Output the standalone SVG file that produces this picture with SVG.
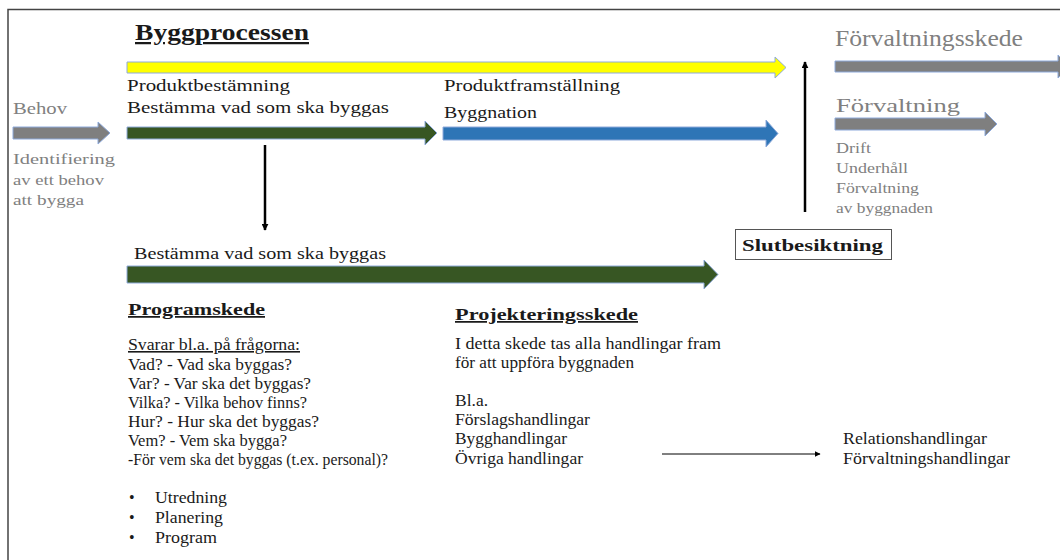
<svg xmlns="http://www.w3.org/2000/svg" width="1060" height="560" viewBox="0 0 1060 560">
<defs>
<style>
text{font-family:"Liberation Serif","Times New Roman",serif;font-size:17.5px;fill:#1a1a1a}
.g{fill:#808080}
.b{font-weight:bold}
.u{text-decoration:underline}
.s{font-size:16px}
.p{font-size:17px}
.ar{stroke:#8eaadb;stroke-width:1}
</style>
<marker id="ah" viewBox="0 0 10 10" refX="9" refY="5" markerWidth="6" markerHeight="6" orient="auto" markerUnits="userSpaceOnUse">
<path d="M0,0 L10,5 L0,10 z" fill="#000"/>
</marker>
<marker id="ah2" viewBox="0 0 10 10" refX="9" refY="5" markerWidth="7" markerHeight="7" orient="auto" markerUnits="userSpaceOnUse">
<path d="M0,0 L10,5 L0,10 z" fill="#000"/>
</marker>
</defs>
<rect width="1060" height="560" fill="#fff"/>
<g id="frame" fill="none" stroke="#444" stroke-width="1.5">
<path d="M8,560 V9.5 H1060"/>
</g>
<g id="title"><text x="135" y="40" class="b u" style="font-size:22.5px" textLength="174" lengthAdjust="spacingAndGlyphs">Byggprocessen</text></g>
<g id="behov">
<text x="13" y="114" class="g" textLength="54" lengthAdjust="spacingAndGlyphs">Behov</text>
<path class="ar" d="M13,127 H98 V122 L110,133 L98,144 V139 H13 Z" fill="#7f7f7f"/>
<text x="13" y="164" class="g" style="font-size:15.5px" textLength="102" lengthAdjust="spacingAndGlyphs">Identifiering</text>
<text x="13" y="185" class="g" style="font-size:15.5px" textLength="91" lengthAdjust="spacingAndGlyphs">av ett behov</text>
<text x="13" y="205" class="g" style="font-size:15.5px" textLength="71" lengthAdjust="spacingAndGlyphs">att bygga</text>
</g>
<g id="byggprocess-arrow">
<path class="ar" d="M127,62 H775 V57 L786,67.5 L775,78 V73 H127 Z" fill="#ffff00"/>
</g>
<g id="produktbestamning">
<text x="127" y="91" textLength="163" lengthAdjust="spacingAndGlyphs">Produktbestämning</text>
<text x="127" y="113" textLength="262" lengthAdjust="spacingAndGlyphs">Bestämma vad som ska byggas</text>
<path class="ar" d="M127,127 H425 V121 L437,133 L425,145 V139 H127 Z" fill="#375623"/>
</g>
<g id="produktframstallning">
<text x="444" y="91" textLength="176" lengthAdjust="spacingAndGlyphs">Produktframställning</text>
<text x="444" y="118" textLength="93" lengthAdjust="spacingAndGlyphs">Byggnation</text>
<path class="ar" d="M443,127 H766 V120 L778,133.5 L766,147 V140 H443 Z" fill="#2e75b6"/>
</g>
<g id="forvaltningsskede">
<text x="835" y="46" class="g" style="font-size:22.5px" textLength="188" lengthAdjust="spacingAndGlyphs">Förvaltningsskede</text>
<path class="ar" d="M835,61 H1058 V55 L1070,66.5 L1058,78 V72 H835 Z" fill="#7f7f7f"/>
<text x="836" y="112" class="g" style="font-size:18px" textLength="124" lengthAdjust="spacingAndGlyphs">Förvaltning</text>
<path class="ar" d="M835,118 H985 V112 L997,124 L985,136 V130 H835 Z" fill="#7f7f7f"/>
<text x="836" y="153" class="g" style="font-size:15.5px" textLength="35" lengthAdjust="spacingAndGlyphs">Drift</text>
<text x="836" y="173" class="g" style="font-size:15.5px" textLength="72" lengthAdjust="spacingAndGlyphs">Underhåll</text>
<text x="836" y="193" class="g" style="font-size:15.5px" textLength="83" lengthAdjust="spacingAndGlyphs">Förvaltning</text>
<text x="836" y="213" class="g" style="font-size:15.5px" textLength="97" lengthAdjust="spacingAndGlyphs">av byggnaden</text>
</g>
<g id="slutbesiktning">
<rect x="735.5" y="229.5" width="156" height="30" fill="#fff" stroke="#555" stroke-width="1"/>
<text x="742" y="250.5" class="b" style="font-size:17.5px" textLength="141" lengthAdjust="spacingAndGlyphs">Slutbesiktning</text>
</g>
<g id="bestamma">
<text x="134" y="259" textLength="252" lengthAdjust="spacingAndGlyphs">Bestämma vad som ska byggas</text>
<path class="ar" d="M127,266 H704 V260 L718,274.5 L704,289 V283 H127 Z" fill="#375623"/>
</g>
<g id="programskede">
<text x="128" y="315" class="b u" textLength="137" lengthAdjust="spacingAndGlyphs">Programskede</text>
<text x="128" y="350" class="u s" textLength="172" lengthAdjust="spacingAndGlyphs">Svarar bl.a. på frågorna:</text>
<text x="128" y="369.5" class="s" textLength="164" lengthAdjust="spacingAndGlyphs">Vad? - Vad ska byggas?</text>
<text x="128" y="388.5" class="s" textLength="183" lengthAdjust="spacingAndGlyphs">Var? - Var ska det byggas?</text>
<text x="128" y="407.5" class="s" textLength="179" lengthAdjust="spacingAndGlyphs">Vilka? - Vilka behov finns?</text>
<text x="128" y="426.5" class="s" textLength="191" lengthAdjust="spacingAndGlyphs">Hur? - Hur ska det byggas?</text>
<text x="128" y="446" class="s" textLength="159" lengthAdjust="spacingAndGlyphs">Vem? - Vem ska bygga?</text>
<text x="128" y="465" class="s" textLength="260" lengthAdjust="spacingAndGlyphs">-För vem ska det byggas (t.ex. personal)?</text>
<text x="129" y="503" class="s">•</text>
<text x="155" y="503" class="s" textLength="72" lengthAdjust="spacingAndGlyphs">Utredning</text>
<text x="129" y="523" class="s">•</text>
<text x="155" y="523" class="s" textLength="68" lengthAdjust="spacingAndGlyphs">Planering</text>
<text x="129" y="543" class="s">•</text>
<text x="155" y="543" class="s" textLength="62" lengthAdjust="spacingAndGlyphs">Program</text>
</g>
<g id="projekteringsskede">
<text x="455" y="320" class="b u" textLength="183" lengthAdjust="spacingAndGlyphs">Projekteringsskede</text>
<text x="455" y="349" class="p" textLength="266" lengthAdjust="spacingAndGlyphs">I detta skede tas alla handlingar fram</text>
<text x="455" y="368" class="p" textLength="179" lengthAdjust="spacingAndGlyphs">för att uppföra byggnaden</text>
<text x="455" y="406" class="p" textLength="33" lengthAdjust="spacingAndGlyphs">Bl.a.</text>
<text x="455" y="425" class="p" textLength="135" lengthAdjust="spacingAndGlyphs">Förslagshandlingar</text>
<text x="455" y="444" class="p" textLength="112" lengthAdjust="spacingAndGlyphs">Bygghandlingar</text>
<text x="455" y="464" class="p" textLength="128" lengthAdjust="spacingAndGlyphs">Övriga handlingar</text>
</g>
<g id="relation">
<text x="843" y="444" class="p" textLength="144" lengthAdjust="spacingAndGlyphs">Relationshandlingar</text>
<text x="843" y="464" class="p" textLength="167" lengthAdjust="spacingAndGlyphs">Förvaltningshandlingar</text>
</g>
<g id="connectors" stroke="#000" fill="none">
<line x1="265" y1="145" x2="265" y2="230" stroke-width="2.5" marker-end="url(#ah2)"/>
<line x1="805" y1="212" x2="805" y2="62" stroke-width="2.5" marker-end="url(#ah2)"/>
<line x1="662" y1="454" x2="820" y2="454" stroke-width="1" marker-end="url(#ah)"/>
</g>
</svg>
